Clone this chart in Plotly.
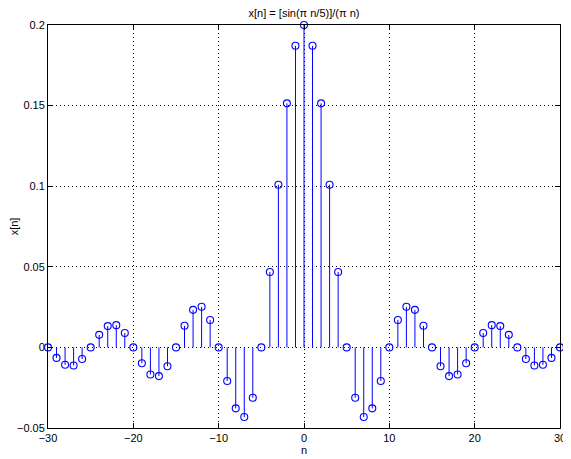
import plotly.graph_objects as go

# sample index and values
n = list(range(-30, 31))
x_pos = [0.2, 0.1871, 0.1514, 0.1009, 0.0468, 0.0, -0.0312, -0.0432, -0.0378, -0.0208,
         0.0, 0.0170, 0.0252, 0.0233, 0.0134, 0.0, -0.0117, -0.0178, -0.0168, -0.0098,
         0.0, 0.0089, 0.0138, 0.0132, 0.0078, 0.0, -0.0072, -0.0112, -0.0108, -0.0065, 0.0]
x_n = x_pos[:0:-1] + x_pos

xticks = [-30, -20, -10, 0, 10, 20, 30]
yticks = [-0.05, 0, 0.05, 0.1, 0.15, 0.2]
ytext = ["\u22120.05", "0", "0.05", "0.1", "0.15", "0.2"]

blue = "rgb(0,0,255)"

stem_x, stem_y = [], []
for k, v in zip(n, x_n):
    stem_x += [k, k, None]
    stem_y += [0, v, None]

fig = go.Figure()
fig.add_trace(go.Scatter(x=stem_x, y=stem_y, mode="lines",
                         line=dict(color=blue, width=1), showlegend=False,
                         hoverinfo="skip", cliponaxis=False))
fig.add_trace(go.Scatter(x=n, y=x_n, mode="markers", cliponaxis=False,
                         marker=dict(symbol="circle-open", size=7, color=blue,
                                     line=dict(width=1.1, color=blue)),
                         showlegend=False))

axis_common = dict(showline=True, linecolor="black", linewidth=1, mirror="ticks",
                   ticks="inside", ticklen=5, tickcolor="black", automargin=False,
                   showgrid=True, gridcolor="black", griddash="1px,3px", gridwidth=1,
                   zeroline=False, tickfont=dict(size=11, color="black"))

fig.update_xaxes(range=[-30, 30], tickvals=xticks, **axis_common,
                 title=dict(text="n", font=dict(size=11, color="black"), standoff=2))
fig.update_yaxes(range=[-0.05, 0.2], tickvals=yticks, ticktext=ytext, **axis_common,
                 title=dict(text="x[n]", font=dict(size=11, color="black"), standoff=8))

# page body adds an 8px offset, so the figure is sized to land the axes box
# where the reference has it
fig.update_layout(
    width=563, height=451,
    margin=dict(l=40, r=11, t=17, b=31),
    paper_bgcolor="white", plot_bgcolor="white",
    font=dict(family="Liberation Sans, Arial, sans-serif", size=11, color="black"),
    title=dict(text="x[n] = [sin(\u03c0 n/5)]/(\u03c0 n)", x=0.5, xref="paper",
               xanchor="center", y=0.997, yanchor="top", yref="container",
               pad=dict(t=0, b=0), font=dict(size=11, color="black")),
)

fig.write_html("out.html")
